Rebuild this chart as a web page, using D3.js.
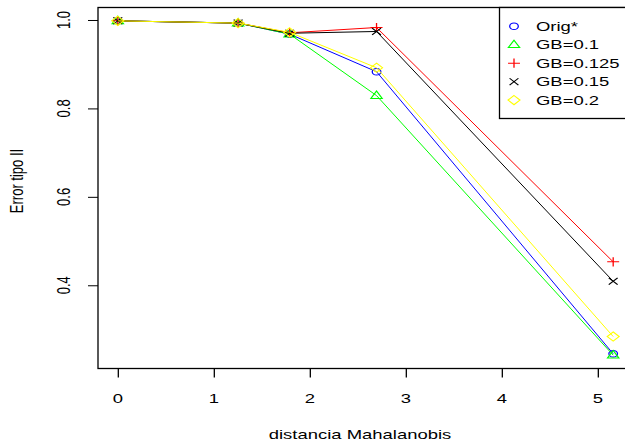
<!DOCTYPE html>
<html>
<head>
<meta charset="utf-8">
<script src="https://cdn.jsdelivr.net/npm/d3@7"></script>
<style>
  html, body { margin: 0; padding: 0; background: #fff; }
  svg { display: block; }
  text { font-family: "Liberation Sans", Arial, Helvetica, sans-serif; fill: #000; }
</style>
</head>
<body>
<svg id="chart" width="625" height="443"></svg>
<script>
// Mahalanobis distance at which each error rate was measured
const distances = [0, 1.253, 1.79, 2.695, 5.16];

// Type II error rate for each method
const seriesNames = ["Orig*", "GB=0.1", "GB=0.125", "GB=0.15", "GB=0.2"];
const origVals   = [0.998, 0.993, 0.968, 0.883, 0.245];
const gb010Vals  = [0.998, 0.993, 0.968, 0.829, 0.242];
const gb0125Vals = [0.998, 0.993, 0.971, 0.983, 0.453];
const gb015Vals  = [0.998, 0.993, 0.970, 0.974, 0.409];
const gb020Vals  = [0.998, 0.993, 0.972, 0.892, 0.284];

const xTicks = [0, 1, 2, 3, 4, 5];
const yTicks = [0.4, 0.6, 0.8, 1.0];

const xTitle = "distancia Mahalanobis";
const yTitle = "Error tipo II";

const seriesValues = [origVals, gb010Vals, gb0125Vals, gb015Vals, gb020Vals];
const seriesColors = ["#0000ff", "#00ff00", "#ff0000", "#000000", "#ffff00"];
const seriesShapes = ["circle", "triangle", "plus", "cross", "diamond"];

const series = seriesNames.map((name, i) => ({
  name,
  color: seriesColors[i],
  shape: seriesShapes[i],
  points: distances.map((d, j) => ({ x: d, y: seriesValues[i][j] }))
}));

const svg = d3.select("#chart");

// text is drawn wider than tall
const SX = 1.42;
const FS = 13;

// plot region, with R-style 4% padding round the data range
const box = { left: 98, right: 633, top: 7.5, bottom: 368.5 };
function padded(vals) {
  const [lo, hi] = d3.extent(vals);
  const r = hi - lo;
  return [lo - 0.04 * r, hi + 0.04 * r];
}
const allY = seriesValues.flat();
const x = d3.scaleLinear().domain(padded(distances)).range([box.left, box.right]);
const y = d3.scaleLinear().domain(padded(allY)).range([box.bottom, box.top]);

function stretchedText(g, str, px, py, opts = {}) {
  const rot = opts.rotate ? " rotate(-90)" : "";
  return g.append("text")
    .attr("transform", `translate(${px},${py}) scale(${SX},1)${rot}`)
    .attr("text-anchor", opts.anchor || "middle")
    .attr("font-size", opts.size || FS)
    .text(str);
}

// markers
function markerPath(shape) {
  const p = d3.path();
  if (shape === "circle") {
    p.arc(0, 0, 3.3, 0, 2 * Math.PI);
  } else if (shape === "triangle") {
    const r = 4.6;
    p.moveTo(0, -r);
    p.lineTo(r * 0.95, r * 0.62);
    p.lineTo(-r * 0.95, r * 0.62);
    p.closePath();
  } else if (shape === "plus") {
    const r = 4.6;
    p.moveTo(-r, 0); p.lineTo(r, 0);
    p.moveTo(0, -r); p.lineTo(0, r);
  } else if (shape === "cross") {
    const r = 3.4;
    p.moveTo(-r, -r); p.lineTo(r, r);
    p.moveTo(-r, r); p.lineTo(r, -r);
  } else if (shape === "diamond") {
    const r = 4.6;
    p.moveTo(0, -r); p.lineTo(r, 0); p.lineTo(0, r); p.lineTo(-r, 0); p.closePath();
  }
  return p.toString();
}
const MSX = 1.3;

// series lines and markers
const line = d3.line().x(d => x(d.x)).y(d => y(d.y));
const plotG = svg.append("g");
series.forEach(s => {
  plotG.append("path")
    .attr("d", line(s.points))
    .attr("fill", "none")
    .attr("stroke", s.color)
    .attr("stroke-width", 1);
  plotG.selectAll(null)
    .data(s.points)
    .enter()
    .append("path")
    .attr("transform", d => `translate(${x(d.x)},${y(d.y)}) scale(${MSX},1)`)
    .attr("d", markerPath(s.shape))
    .attr("fill", "none")
    .attr("stroke", s.color)
    .attr("stroke-width", 1);
});

// plot frame
svg.append("rect")
  .attr("x", box.left).attr("y", box.top)
  .attr("width", box.right - box.left).attr("height", box.bottom - box.top)
  .attr("fill", "none").attr("stroke", "#000").attr("stroke-width", 1.3);

// x axis
const xAxisG = svg.append("g")
  .attr("transform", `translate(0,${box.bottom})`)
  .call(d3.axisBottom(x).tickValues(xTicks).tickSize(9).tickFormat(""));
xAxisG.select(".domain").remove();
xAxisG.selectAll(".tick line").attr("stroke", "#000").attr("stroke-width", 1.3);
xTicks.forEach(t => stretchedText(svg, d3.format("d")(t), x(t), 403));

// y axis
const yAxisG = svg.append("g")
  .attr("transform", `translate(${box.left},0)`)
  .call(d3.axisLeft(y).tickValues(yTicks).tickSize(10).tickFormat(""));
yAxisG.select(".domain").remove();
yAxisG.selectAll(".tick line").attr("stroke", "#000").attr("stroke-width", 1);
yTicks.forEach(t => stretchedText(svg, d3.format(".1f")(t), 70, y(t), { rotate: true }));

// axis titles
stretchedText(svg, xTitle, 360, 439);
stretchedText(svg, yTitle, 23, 181, { rotate: true });

// legend
const legendG = svg.append("g");
const legendLeft = 499.5;
legendG.append("rect")
  .attr("x", legendLeft).attr("y", box.top)
  .attr("width", box.right - legendLeft).attr("height", 118.5 - box.top)
  .attr("fill", "#fff").attr("stroke", "#000").attr("stroke-width", 1.3);
series.forEach((s, i) => {
  const cy = 26.3 + i * 18.45;
  legendG.append("path")
    .attr("transform", `translate(514,${cy}) scale(${MSX},1)`)
    .attr("d", markerPath(s.shape))
    .attr("fill", "none")
    .attr("stroke", s.color)
    .attr("stroke-width", 1);
  stretchedText(legendG, s.name, 536, cy + 4.7, { anchor: "start" });
});
</script>
</body>
</html>
